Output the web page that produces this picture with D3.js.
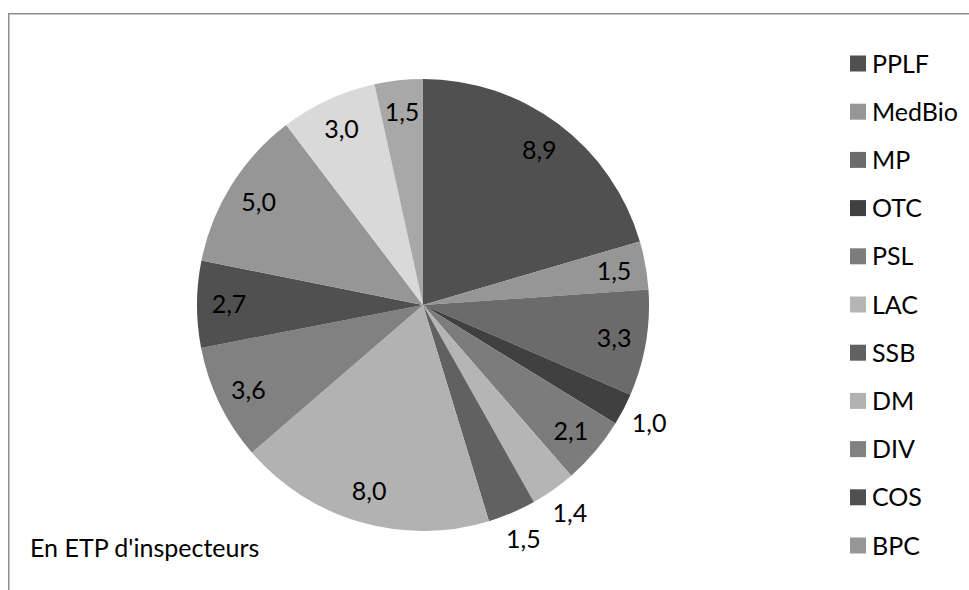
<!DOCTYPE html>
<html>
<head>
<meta charset="utf-8">
<script src="https://cdn.jsdelivr.net/npm/d3@7"></script>
<style>
  html, body { margin: 0; padding: 0; background: #fff; }
  svg { display: block; }
  text { font-family: Lato, "Open Sans", sans-serif; fill: #000; }
</style>
</head>
<body>
<svg id="chart" width="969" height="590"></svg>
<script>
// Effectifs par domaine, en ETP d'inspecteurs
const categories = ["PPLF", "MedBio", "MP", "OTC", "PSL", "LAC", "SSB", "DM", "DIV", "COS", "BPC"];
const values = [8.9, 1.5, 3.3, 1.0, 2.1, 1.4, 1.5, 8.0, 3.6, 2.7, 5.0, 3.0, 1.5];
const sliceColors = ["#505050", "#969696", "#6b6b6b", "#404040", "#7c7c7c", "#b5b5b5",
                     "#616161", "#b2b2b2", "#818181", "#505050", "#969696", "#d9d9d9", "#a8a8a8"];
const note = "En ETP d'inspecteurs";

// Small slices whose value label sits outside the pie
const outsideLabels = new Set([3, 5, 6]);

const svg = d3.select("#chart");
const W = 969, H = 590;
const fontSize = 25;

// Chart frame (open on the right and bottom edges of the view)
svg.append("rect")
  .attr("x", 8.75).attr("y", 13.75)
  .attr("width", W + 20).attr("height", H + 20)
  .attr("fill", "none").attr("stroke", "#8e8e8e").attr("stroke-width", 1.5);

const cx = 423, cy = 305, R = 226;
const fmt = d3.formatLocale({ decimal: ",", thousands: " ", grouping: [3], currency: ["", " €"] }).format(".1f");

const pie = d3.pie().sort(null).value(d => d);
const arcs = pie(values);
const arc = d3.arc().innerRadius(0).outerRadius(R);
const inLabelArc = d3.arc().innerRadius(194).outerRadius(194);
const outLabelArc = d3.arc().innerRadius(255).outerRadius(255);

const g = svg.append("g").attr("transform", `translate(${cx},${cy})`);

g.selectAll("path.slice")
  .data(arcs)
  .join("path")
  .attr("class", "slice")
  .attr("d", arc)
  .attr("fill", (d, i) => sliceColors[i]);

g.selectAll("text.val")
  .data(arcs)
  .join("text")
  .attr("class", "val")
  .attr("transform", (d, i) => {
    const p = (outsideLabels.has(i) ? outLabelArc : inLabelArc).centroid(d);
    return `translate(${p[0]},${p[1]})`;
  })
  .attr("text-anchor", "middle")
  .attr("dy", "0.36em")
  .attr("font-size", fontSize)
  .text(d => fmt(d.data));

// Legend
const legendX = 850, legendY0 = 63.5, legendStep = 48.2, sw = 16;
const legend = svg.append("g");
const items = legend.selectAll("g.item")
  .data(categories)
  .join("g")
  .attr("class", "item")
  .attr("transform", (d, i) => `translate(${legendX},${legendY0 + i * legendStep})`);
items.append("rect")
  .attr("x", 0).attr("y", -sw / 2)
  .attr("width", sw).attr("height", sw)
  .attr("fill", (d, i) => sliceColors[i]);
items.append("text")
  .attr("x", 22).attr("dy", "0.36em")
  .attr("font-size", fontSize)
  .text(d => d);

// Unit note
svg.append("text")
  .attr("x", 30).attr("y", 557)
  .attr("font-size", fontSize)
  .text(note);
</script>
</body>
</html>
